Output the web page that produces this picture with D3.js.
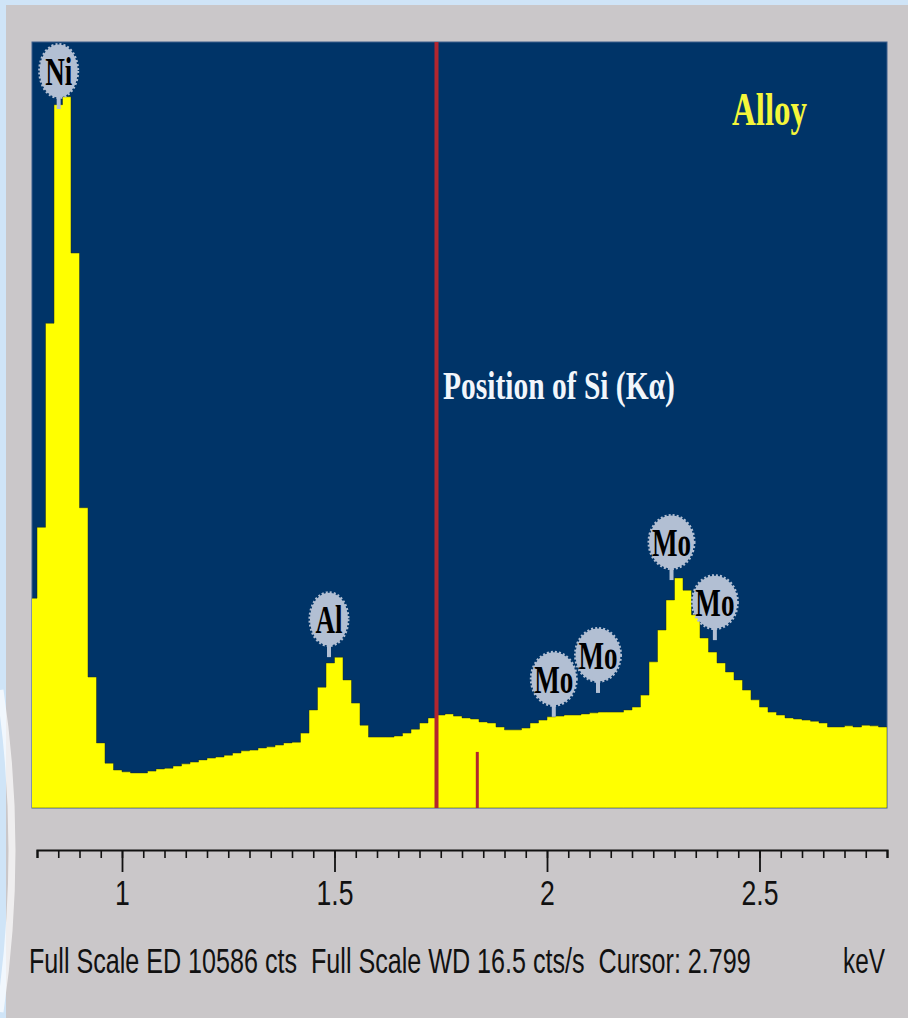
<!DOCTYPE html>
<html>
<head>
<meta charset="utf-8">
<script src="https://cdn.jsdelivr.net/npm/d3@7"></script>
<style>
  html, body { margin: 0; padding: 0; background: #cfe4f7; }
  svg { display: block; }
  text { white-space: pre; }
</style>
</head>
<body>
<div class="graphic"></div>
<script>

const W = 908;
const H = 1018;
const fullScale = 10586;

// spectrum channels, 0.02 keV wide, left edge energy -> counts
const channelStart = 0.78;
const channelWidth = 0.02;
const counts = [
  2900, 3880, 6700, 9720, 9830, 7670, 4150, 1810, 900, 620,
  525, 500, 485, 485, 510, 540, 550, 580, 610, 635,
  665, 690, 705, 730, 760, 790, 800, 830, 845, 870,
  900, 910, 1035, 1355, 1670, 2005, 2085, 1770, 1450, 1145,
  980, 980, 980, 995, 1035, 1090, 1175, 1245, 1285, 1300,
  1270, 1245, 1230, 1190, 1175, 1120, 1080, 1080, 1105, 1175,
  1215, 1260, 1270, 1285, 1285, 1300, 1315, 1325, 1325, 1325,
  1355, 1395, 1560, 2020, 2460, 2875, 3180, 3010, 2670, 2350,
  2155, 2005, 1880, 1770, 1630, 1495, 1395, 1325, 1285, 1245,
  1230, 1215, 1200, 1175, 1120, 1120, 1135, 1120, 1145, 1135,
  1120
];

// peak markers
const elements = ["Ni", "Al", "Mo", "Mo", "Mo", "Mo"];
const elementEnergies = [0.851, 1.487, 2.016, 2.120, 2.293, 2.395];
const elementHeights = [9660, 2085, 1260, 1590, 3150, 2320];

// Si K lines (position markers)
const siEnergies = [1.740, 1.836];
const siHeights = [fullScale, 775];

const majorTicks = [1, 1.5, 2, 2.5];
const minorTicks = d3.range(0, 41).map(i => 0.8 + i * 0.05);

const statusText = "Full Scale ED 10586 cts  Full Scale WD 16.5 cts/s  Cursor: 2.799";
const unitText = "keV";
const titleText = "Alloy";
const siText = "Position of Si (K\u03b1)";

const plot = {left: 32, right: 887, top: 42, bottom: 808};
const serif = "'Liberation Serif', 'Times New Roman', serif";
const sans = "'Liberation Sans', Arial, sans-serif";

var x = d3.scaleLinear().domain([0.8, 2.8]).range([37, 887]);
var y = d3.scaleLinear().domain([0, fullScale]).range([plot.bottom, plot.top]);

var svg = d3.select(".graphic")
  .append("svg")
  .attr("width", W)
  .attr("height", H);

// squeeze a text horizontally so it spans the given width
function fitText(x0, y0, width, str, font, size, weight, color) {
  var t = svg.append("text")
    .style("font-family", font)
    .style("font-size", size + "px")
    .style("font-weight", weight)
    .attr("fill", color)
    .text(str);
  var natural = t.node().getComputedTextLength();
  t.attr("transform", "translate(" + x0 + "," + y0 + ") scale(" + (width / natural) + ",1)");
  return t;
}

// slide backdrop + gray panel
svg.append("rect")
  .attr("width", W).attr("height", H)
  .attr("fill", "#cfe4f7");
svg.append("rect")
  .attr("x", 6).attr("y", 5)
  .attr("width", W - 6).attr("height", H - 5)
  .attr("fill", "#cac7c9");
svg.append("path")
  .attr("d", "M0,690 Q24,850 0,1012")
  .attr("fill", "none")
  .attr("stroke", "#ffffff")
  .attr("stroke-width", 7)
  .attr("stroke-opacity", 0.7);

svg.append("defs").append("clipPath")
  .attr("id", "plotClip")
  .append("rect")
  .attr("x", plot.left).attr("y", plot.top)
  .attr("width", plot.right - plot.left)
  .attr("height", plot.bottom - plot.top);

svg.append("rect")
  .attr("x", plot.left).attr("y", plot.top)
  .attr("width", plot.right - plot.left)
  .attr("height", plot.bottom - plot.top)
  .attr("fill", "#003468")
  .attr("stroke", "#3d5f8c")
  .attr("stroke-width", 1);

var spectrum = counts.map((c, i) => ({e: channelStart + i * channelWidth, c: c}));
spectrum.push({e: channelStart + counts.length * channelWidth, c: counts[counts.length - 1]});

var area = d3.area()
  .curve(d3.curveStepAfter)
  .x(d => x(d.e))
  .y0(y(0))
  .y1(d => y(d.c));

var g = svg.append("g").attr("clip-path", "url(#plotClip)");

g.append("path")
  .datum(spectrum)
  .attr("d", area)
  .attr("fill", "#ffff00")
  .attr("stroke", "#1a2a20")
  .attr("stroke-width", 0.8)
  .attr("stroke-opacity", 0.6);

// Si marker lines
g.selectAll("line.si")
  .data(siEnergies)
  .enter()
  .append("line")
  .attr("class", "si")
  .attr("x1", d => x(d))
  .attr("x2", d => x(d))
  .attr("y1", (d, i) => y(siHeights[i]))
  .attr("y2", y(0))
  .attr("stroke", "#b3262e")
  .attr("stroke-width", (d, i) => i == 0 ? 4 : 3);

// element labels
var labels = g.selectAll("g.label")
  .data(elements)
  .enter()
  .append("g")
  .attr("class", "label")
  .attr("transform", (d, i) => "translate(" + x(elementEnergies[i]) + "," + (y(elementHeights[i]) - 38) + ")");

labels.append("line")
  .attr("x1", 0).attr("x2", 0)
  .attr("y1", 20).attr("y2", 38)
  .attr("stroke", "#b2bfd3")
  .attr("stroke-width", 4);

labels.append("ellipse")
  .attr("rx", d => d == "Mo" ? 22.5 : 19)
  .attr("ry", 26.5)
  .attr("fill", "#b2bfd3")
  .attr("stroke", "#b2bfd3")
  .attr("stroke-width", 3)
  .attr("stroke-dasharray", "2,2");

labels.append("text")
  .attr("text-anchor", "middle")
  .attr("transform", "scale(0.66,1)")
  .attr("y", 14)
  .style("font-family", serif)
  .style("font-weight", "bold")
  .style("font-size", "41px")
  .attr("fill", "#000")
  .text(d => d);

// texts inside plot
fitText(732, 125, 75, titleText, serif, 46, "bold", "#f4f63a");
fitText(443, 399, 232, siText, serif, 39, "bold", "#f2f6fb");

// energy axis
var axisG = svg.append("g").attr("transform", "translate(0,850)");

axisG.append("g")
  .call(d3.axisBottom(x).tickValues(minorTicks).tickSize(8).tickSizeOuter(8).tickFormat(""))
  .call(a => a.selectAll("line").attr("stroke", "#111").attr("stroke-width", 1.6))
  .call(a => a.select(".domain").attr("stroke", "#111").attr("stroke-width", 2.2));

axisG.append("g")
  .call(d3.axisBottom(x).tickValues(majorTicks).tickSize(22).tickFormat(d => d))
  .call(a => a.select(".domain").remove())
  .call(a => a.selectAll("line").attr("stroke", "#111").attr("stroke-width", 1.8))
  .call(a => a.selectAll("text")
    .attr("y", 30)
    .attr("dy", "0.72em")
    .attr("fill", "#111")
    .attr("transform", "scale(0.76,1)")
    .style("font-family", sans)
    .style("font-size", "35px"));

// status line
fitText(29, 973, 722, statusText, sans, 35, "normal", "#111");
fitText(843, 973, 42, unitText, sans, 35, "normal", "#111");

</script>
</body>
</html>
